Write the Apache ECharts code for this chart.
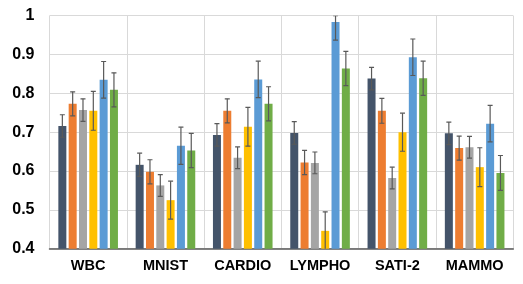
<!DOCTYPE html>
<html><head><meta charset="utf-8">
<script src="https://cdn.jsdelivr.net/npm/echarts@6/dist/echarts.min.js"></script>
<style>html,body{margin:0;padding:0;background:#fff}#c{width:523px;height:284px}</style>
</head><body><div id="c"></div>
<script>
var categories = ['WBC','MNIST','CARDIO','LYMPHO','SATI-2','MAMMO'];
var yTicks = [0.4,0.5,0.6,0.7,0.8,0.9,1];
var s1 = [0.716,0.616,0.693,0.698,0.838,0.697];
var s2 = [0.773,0.598,0.755,0.622,0.755,0.659];
var s3 = [0.757,0.563,0.634,0.621,0.582,0.661];
var s4 = [0.755,0.525,0.714,0.446,0.700,0.610];
var s5 = [0.835,0.665,0.836,0.984,0.893,0.722];
var s6 = [0.809,0.653,0.773,0.864,0.839,0.595];
var e1 = [0.029,0.030,0.029,0.029,0.029,0.029];
var e2 = [0.031,0.031,0.031,0.031,0.032,0.031];
var e3 = [0.029,0.028,0.028,0.028,0.028,0.028];
var e4 = [0.050,0.049,0.050,0.049,0.049,0.050];
var e5 = [0.047,0.048,0.047,0.047,0.047,0.047];
var e6 = [0.044,0.044,0.044,0.044,0.044,0.045];

var values = [s1,s2,s3,s4,s5,s6];
var errors = [e1,e2,e3,e4,e5,e6];
var colors = ['#44546A','#ED7D31','#A5A5A5','#FFC000','#5B9BD5','#70AD47'];
var BW = 8, GAP = 2.32;

var series = [];
values.forEach(function(v, i){
  series.push({type:'bar', data:v, barWidth:BW, barGap:(GAP/BW*100)+'%',
    itemStyle:{color:colors[i]}, z:2});
});
values.forEach(function(v, i){
  var data = v.map(function(val, k){ return [k, val, errors[i][k]]; });
  series.push({type:'custom', z:5, clip:true, data:data,
    encode:{x:0, y:1},
    renderItem:function(params, api){
      var k = api.value(0), val = api.value(1), err = api.value(2);
      var c = api.coord([k, val]);
      var x = c[0] + (i - 2.5) * (BW + GAP);
      var top = api.coord([k, val + err])[1];
      var bot = api.coord([k, val - err])[1];
      var cs = params.coordSys;
      var yMin = cs.y;
      var hw = 2.5;
      var st = {stroke:'#595959', lineWidth:1.2};
      var t = Math.max(top, yMin);
      return {type:'group', children:[
        {type:'line', shape:{x1:x, y1:t, x2:x, y2:bot}, style:st},
        {type:'line', shape:{x1:x-hw, y1:bot, x2:x+hw, y2:bot}, style:st},
        {type:'line', shape:{x1:x-hw, y1:t, x2:x+hw, y2:t}, style:st}
      ]};
    }
  });
});

var chart = echarts.init(document.getElementById('c'));
chart.setOption({
  animation:false,
  grid:{left:49.5, right:9.7, top:15.7, bottom:35.3, containLabel:false},
  xAxis:{type:'category', data:categories,
    axisLine:{show:true, lineStyle:{color:'#595959', width:1.5}},
    axisTick:{show:false, interval:0},
    splitLine:{show:true, interval:0, lineStyle:{color:'#D9D9D9', width:1}},
    axisLabel:{interval:0, hideOverlap:false, color:'#000', fontFamily:'Liberation Sans, Arial', fontWeight:'bold', fontSize:14.5, margin:10}},
  yAxis:{type:'value', min:yTicks[0], max:yTicks[yTicks.length-1], interval:0.1,
    axisLine:{show:false}, axisTick:{show:false},
    splitLine:{show:true, lineStyle:{color:'#D9D9D9', width:1}},
    axisLabel:{color:'#000', fontFamily:'Liberation Sans, Arial', fontWeight:'bold', fontSize:16, margin:15,
      formatter:function(v){ return String(Math.round(v*10)/10); }}},
  series:series
});
</script></body></html>
